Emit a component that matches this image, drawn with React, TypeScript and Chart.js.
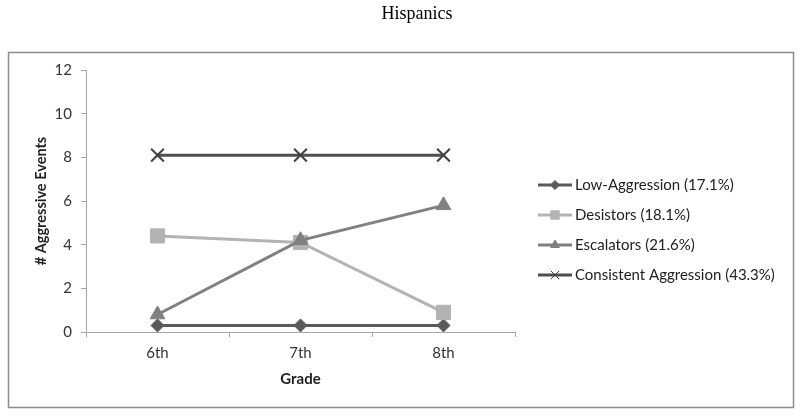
import React, { useEffect, useRef } from 'react';
import { Chart, registerables } from 'chart.js';
import { drawPoint } from 'chart.js/helpers';

Chart.register(...registerables);

const chartTitle = 'Hispanics';
const grades = ['6th', '7th', '8th'];
const yAxisTitle = '# Aggressive Events';
const xAxisTitle = 'Grade';
const seriesNames = [
  'Low-Aggression (17.1%)',
  'Desistors (18.1%)',
  'Escalators (21.6%)',
  'Consistent Aggression (43.3%)',
];
const lowAggression = [0.3, 0.3, 0.3];
const desistors = [4.4, 4.1, 0.9];
const escalators = [0.8, 4.2, 5.8];
const consistentAggression = [8.1, 8.1, 8.1];
const yMin = 0;
const yMax = 12;
const yStep = 2;

const FONT = 'Lato, "Open Sans", sans-serif';

const styles = [
  { line: '#5a5a5a', point: '#5a5a5a', style: 'rectRot', radius: 6.5, legendRadius: 4.5, width: 3, order: 3 },
  { line: '#b3b3b3', point: '#b3b3b3', style: 'rect', radius: 10, legendRadius: 6, width: 3, order: 2 },
  { line: '#808080', point: '#808080', style: 'triangle', radius: 8.5, legendRadius: 5, width: 3, order: 1 },
  { line: '#4e4e4e', point: '#404040', style: 'crossRot', radius: 9, legendRadius: 6, width: 3, order: 0 },
];

const framePlugin = {
  id: 'frame',
  beforeDraw(chart: any) {
    const { ctx, width, height } = chart;
    ctx.save();
    ctx.fillStyle = '#ffffff';
    ctx.fillRect(0, 0, width, height);
    ctx.strokeStyle = '#8c8c8c';
    ctx.lineWidth = 1.5;
    ctx.strokeRect(8.5, 52.5, 785, 355);
    ctx.restore();
  },
};

const legendPlugin = {
  id: 'sideLegend',
  afterDraw(chart: any) {
    const { ctx, chartArea } = chart;
    const lineStart = chartArea.right + 23;
    const lineEnd = chartArea.right + 57;
    const textX = chartArea.right + 60;
    const rowH = 30;
    const y0 = 185;
    ctx.save();
    chart.data.datasets.forEach((ds: any, i: number) => {
      const y = y0 + i * rowH;
      const st = styles[i];
      ctx.strokeStyle = st.line;
      ctx.lineWidth = 3;
      ctx.beginPath();
      ctx.moveTo(lineStart, y);
      ctx.lineTo(lineEnd, y);
      ctx.stroke();
      ctx.fillStyle = st.point;
      ctx.strokeStyle = st.point;
      ctx.lineWidth = 1;
      drawPoint(ctx, { pointStyle: st.style, radius: st.legendRadius, rotation: 0, borderWidth: 1 } as any, (lineStart + lineEnd) / 2, y);
      ctx.fillStyle = '#222222';
      ctx.font = `15px ${FONT}`;
      ctx.textBaseline = 'middle';
      ctx.textAlign = 'left';
      ctx.fillText(ds.label, textX, y);
    });
    ctx.restore();
  },
};

export default function App() {
  const ref = useRef<HTMLCanvasElement | null>(null);

  useEffect(() => {
    if (!ref.current) return;
    const series = [lowAggression, desistors, escalators, consistentAggression];
    const chart = new Chart(ref.current, {
      type: 'line',
      data: {
        labels: grades,
        datasets: series.map((vals, i) => ({
          label: seriesNames[i],
          data: vals,
          borderColor: styles[i].line,
          backgroundColor: styles[i].point,
          borderWidth: styles[i].width,
          pointStyle: styles[i].style as any,
          pointRadius: styles[i].radius,
          pointHoverRadius: styles[i].radius,
          pointBackgroundColor: styles[i].point,
          pointBorderColor: styles[i].point,
          pointBorderWidth: styles[i].style === 'crossRot' ? 2 : 1,
          tension: 0,
          order: styles[i].order,
        })),
      },
      options: {
        animation: false,
        responsive: false,
        maintainAspectRatio: false,
        layout: { padding: { left: 0, right: 285, top: 70, bottom: 24 } },
        plugins: {
          legend: { display: false },
          tooltip: { enabled: false },
          title: { display: false },
        },
        scales: {
          x: {
            type: 'category',
            offset: true,
            border: { display: true, color: '#a6a6a6', width: 1 },
            grid: { display: true, offset: true, drawOnChartArea: false, drawTicks: true, tickLength: 5, color: '#a6a6a6' },
            ticks: { color: '#333333', font: { family: FONT, size: 15 }, padding: 7, maxRotation: 0 },
            title: {
              display: true,
              text: xAxisTitle,
              color: '#222222',
              font: { family: FONT, size: 15, weight: 'bold' },
              padding: { top: 0, bottom: 4 },
            },
            afterFit(scale: any) {
              scale.height = 60;
            },
          },
          y: {
            min: yMin,
            max: yMax,
            border: { display: true, color: '#a6a6a6', width: 1 },
            grid: { display: true, drawOnChartArea: false, drawTicks: true, tickLength: 5, color: '#a6a6a6' },
            ticks: { stepSize: yStep, color: '#333333', font: { family: FONT, size: 15 }, padding: 9 },
            title: {
              display: true,
              text: yAxisTitle,
              color: '#222222',
              font: { family: FONT, size: 14.5, weight: 'bold' },
              padding: { top: 33, bottom: 0 },
            },
            afterFit(scale: any) {
              scale.width = 86;
            },
          },
        },
      },
      plugins: [framePlugin, legendPlugin],
    });
    return () => chart.destroy();
  }, []);

  return (
    <div style={{ position: 'fixed', left: 0, top: 0, width: 800, height: 416, background: '#fff' }}>
      <canvas ref={ref} width={800} height={416} style={{ display: 'block', width: 800, height: 416 }} />
      <div
        style={{
          position: 'absolute',
          left: 417,
          top: 2,
          transform: 'translateX(-50%)',
          fontFamily: '"Liberation Serif", "Times New Roman", serif',
          fontSize: 18,
          lineHeight: '22px',
          color: '#000',
          whiteSpace: 'nowrap',
        }}
      >
        {chartTitle}
      </div>
    </div>
  );
}
